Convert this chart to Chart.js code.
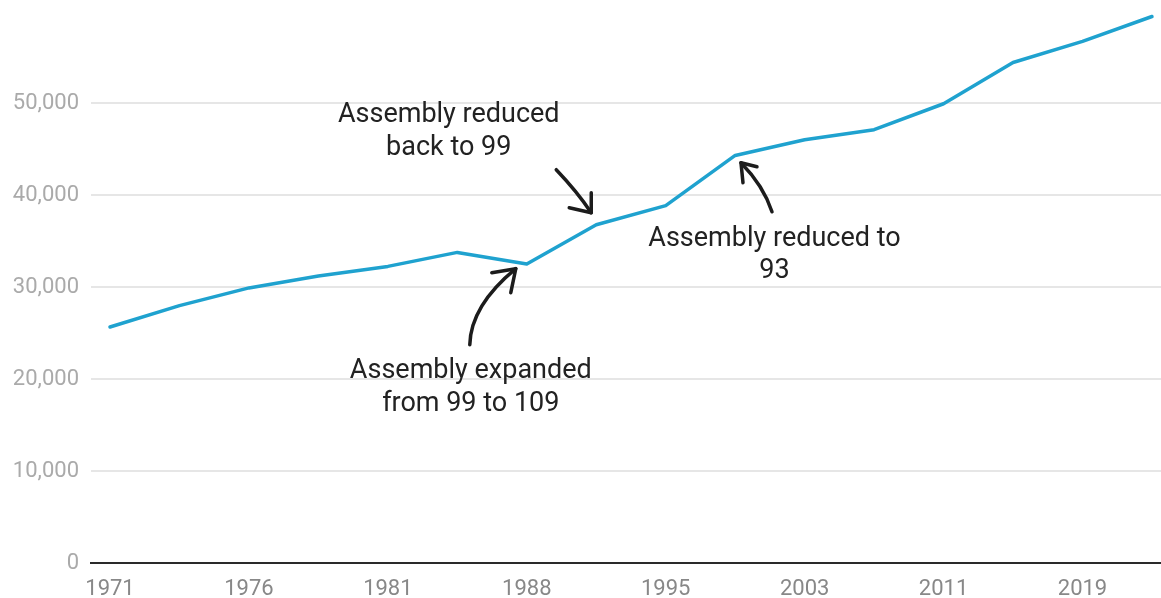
<!DOCTYPE html>
<html>
<head>
<meta charset="utf-8">
<script src="https://cdn.jsdelivr.net/npm/chart.js@4/dist/chart.umd.min.js"></script>
<style>
  html, body { margin: 0; padding: 0; background: #fff; }
  #wrap { width: 1161px; height: 598px; }
</style>
</head>
<body>
<div id="wrap"><canvas id="c" width="1161" height="598"></canvas></div>
<script>
// NSW state elections and average enrolment per Legislative Assembly seat
const electionYears = ['1971','1973','1976','1978','1981','1984','1988','1991','1995','1999','2003','2007','2011','2015','2019','2023'];
const votersPerSeat = [25650, 27970, 29900, 31200, 32240, 33760, 32500, 36770, 38840, 44300, 46000, 47100, 49920, 54400, 56700, 59400];
const xTickYears = ['1971','1976','1981','1988','1995','2003','2011','2019'];
const yTickValues = [0, 10000, 20000, 30000, 40000, 50000];

// Notes on changes to the size of the Assembly
const noteYears = ['1991', '1988', '1999'];
const noteLines = [
  ['Assembly reduced', 'back to 99'],
  ['Assembly expanded', 'from 99 to 109'],
  ['Assembly reduced to', '93']
];

// Offsets (px) of each note's text and arrow from the point it refers to
const noteLayout = [
  { text: [-147.5, -102.5], gap: 32.5, start: [-40, -55], ctrl: [-19, -33], tip: [-5, -12], arms: [[-5, -32], [-27, -17]] },
  { text: [-56, 113.7], gap: 33.5, start: [-57, 80.7], ctrl: [-56, 41.7], tip: [-11, 4.7], arms: [[-35, 8.7], [-16, 28.7]] },
  { text: [39.3, 90.3], gap: 32.3, start: [36.8, 56.3], ctrl: [28.3, 30.3], tip: [5.8, 7.3], arms: [[7.8, 27.3], [21.8, 11.3]] }
];

const notesPlugin = {
  id: 'assemblyNotes',
  afterDatasetsDraw(chart) {
    const ctx = chart.ctx;
    const xs = chart.scales.x, ys = chart.scales.y;
    ctx.save();
    noteYears.forEach((yr, k) => {
      const i = electionYears.indexOf(yr);
      const px = xs.getPixelForValue(i);
      const py = ys.getPixelForValue(votersPerSeat[i]);
      const L = noteLayout[k];
      // text
      ctx.fillStyle = '#222';
      ctx.font = '27px Roboto, "Noto Sans", sans-serif';
      ctx.textAlign = 'center';
      ctx.textBaseline = 'alphabetic';
      noteLines[k].forEach((line, j) => {
        ctx.fillText(line, px + L.text[0], py + L.text[1] + j * L.gap);
      });
      // arrow
      ctx.strokeStyle = '#1c1c1c';
      ctx.lineWidth = 3.5;
      ctx.lineCap = 'round';
      ctx.lineJoin = 'round';
      ctx.beginPath();
      ctx.moveTo(px + L.start[0], py + L.start[1]);
      ctx.quadraticCurveTo(px + L.ctrl[0], py + L.ctrl[1], px + L.tip[0], py + L.tip[1]);
      ctx.stroke();
      ctx.beginPath();
      ctx.moveTo(px + L.arms[0][0], py + L.arms[0][1]);
      ctx.lineTo(px + L.tip[0], py + L.tip[1]);
      ctx.lineTo(px + L.arms[1][0], py + L.arms[1][1]);
      ctx.stroke();
    });
    ctx.restore();
  }
};

const points = votersPerSeat.map((v, i) => ({ x: i, y: v }));

new Chart(document.getElementById('c'), {
  type: 'line',
  data: {
    datasets: [{
      data: points,
      borderColor: '#1fa2cf',
      borderWidth: 3.5,
      borderCapStyle: 'round',
      borderJoinStyle: 'round',
      pointRadius: 0,
      tension: 0,
      fill: false
    }]
  },
  options: {
    responsive: false,
    devicePixelRatio: 1,
    animation: false,
    layout: { padding: { top: 11, right: 0, bottom: 0, left: 0 } },
    plugins: { legend: { display: false }, tooltip: { enabled: false } },
    scales: {
      x: {
        type: 'linear',
        min: -0.2735,
        max: 15.13,
        grid: { display: false },
        border: { display: true, color: '#2a2a2a', width: 2 },
        afterFit(s) { s.height = 35; s.paddingLeft = 0; s.paddingRight = 0; },
        afterBuildTicks(s) {
          s.ticks = electionYears.map((y, i) => ({ value: i })).filter(t => xTickYears.includes(electionYears[t.value]));
        },
        ticks: {
          autoSkip: false,
          maxRotation: 0,
          padding: 5,
          color: '#888',
          font: { family: 'Roboto', size: 22 },
          callback: (v) => electionYears[v]
        }
      },
      y: {
        min: 0,
        max: 60000,
        border: { display: false },
        grid: { color: '#e6e6e6', lineWidth: 2, drawTicks: false },
        afterFit(s) { s.width = 91; s.paddingTop = 0; s.paddingBottom = 0; },
        afterBuildTicks(s) { s.ticks = yTickValues.map(v => ({ value: v })); },
        ticks: {
          padding: 12,
          color: '#aaa',
          font: { family: 'Roboto', size: 22 },
          callback: (v) => v.toLocaleString('en-US')
        }
      }
    }
  },
  plugins: [notesPlugin]
});
</script>
</body>
</html>
